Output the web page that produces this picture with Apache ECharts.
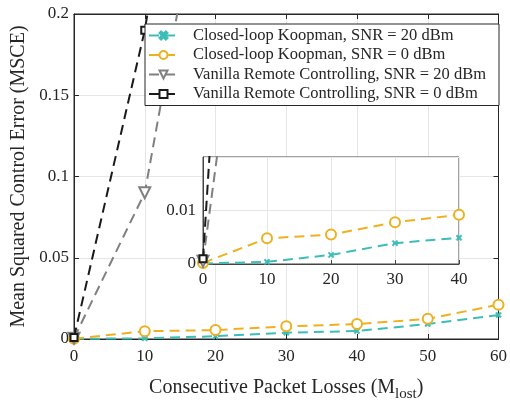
<!DOCTYPE html>
<html><head><meta charset="utf-8">
<script src="https://cdn.jsdelivr.net/npm/echarts@6/dist/echarts.min.js"></script>
<style>html,body{margin:0;padding:0;background:#fff}#c{width:510px;height:407px}</style>
</head><body><div id="c"></div>
<script>
// ---- data ----
const packetLosses = [0, 10, 20, 30, 40, 50, 60];
const koopman20 = [0.0001, 0.0004, 0.0017, 0.0039, 0.0049, 0.0092, 0.0148];
const koopman0  = [0.0002, 0.0048, 0.0055, 0.0078, 0.0092, 0.0124, 0.0211];
const vanilla20 = [0.0005, 0.090, 0.33, 0.58, 0.85, 1.10, 1.40];
const vanilla0  = [0.0010, 0.190, 0.45, 0.75, 1.05, 1.35, 1.70];
const seriesNames = [
  'Closed-loop Koopman, SNR = 20 dBm',
  'Closed-loop Koopman, SNR = 0 dBm',
  'Vanilla Remote Controlling, SNR = 20 dBm',
  'Vanilla Remote Controlling, SNR = 0 dBm'
];
const mainYTicks = [0, 0.05, 0.1, 0.15, 0.2];
const insetYTicks = [0, 0.01];

// ---- styling ----
const FONT = 'Liberation Serif';
const AX = '#262626';
const GRIDC = '#e6e6e6';
const colors = ['#3dbdb7', '#edb120', '#808080', '#1a1a1a'];
const xMark = 'path://M2,0 L5,3 L8,0 L10,2 L7,5 L10,8 L8,10 L5,7 L2,10 L0,8 L3,5 L0,2 Z';
const symbols = [xMark, 'emptyCircle', 'emptyTriangle', 'emptyRect'];
const symSizes = [6, 10, 11, 7];
const symRot = [0, 0, 180, 0];
const allData = [koopman20, koopman0, vanilla20, vanilla0];
const pairs = arr => packetLosses.map((x, i) => [x, arr[i]]);

function mkSeries(idx, xi, yi, inset) {
  const s = {
    type: 'line',
    name: seriesNames[idx],
    xAxisIndex: xi, yAxisIndex: yi,
    data: pairs(allData[idx]),
    symbol: symbols[idx],
    symbolSize: symSizes[idx],
    symbolRotate: symRot[idx],
    showAllSymbol: true,
    clip: true,
    animation: false,
    lineStyle: { color: colors[idx], width: 2, type: [10, 6] },
    itemStyle: idx === 0 ? { color: colors[idx], borderColor: colors[idx], borderWidth: 0.5 }
             : idx === 3 ? { color: colors[idx], borderColor: colors[idx], borderWidth: 2.5 }
                         : { color: colors[idx], borderColor: colors[idx], borderWidth: 2 },
    z: 2 + idx
  };
  if (inset) { s.zlevel = 1; }
  return s;
}

const tickLabel = { fontFamily: FONT, fontSize: 17, color: AX };

const option = {
  backgroundColor: '#fff',
  animation: false,
  grid: [
    { left: 74, right: 11, top: 14, bottom: 59, show: true, borderColor: AX, borderWidth: 1, backgroundColor: 'transparent' },
    { left: 203, right: 51, top: 157, bottom: 143, show: true, borderColor: '#444', borderWidth: 1, backgroundColor: '#fff', zlevel: 1 }
  ],
  legend: {
    orient: 'vertical',
    left: 145, top: 24,
    padding: [3, 13, 3, 3],
    itemWidth: 29, itemHeight: 10, itemGap: 2.5,
    backgroundColor: '#fff',
    borderColor: AX, borderWidth: 1,
    textStyle: { fontFamily: FONT, fontSize: 16.5, color: AX, padding: [0, 0, 0, 10] },
    data: seriesNames,
    z: 10
  },
  xAxis: [
    { gridIndex: 0, type: 'value', min: 0, max: 60, interval: 10,
      axisLine: { show: true, onZero: false, lineStyle: { color: AX } },
      axisTick: { show: true, inside: true, length: 5, lineStyle: { color: AX } },
      axisLabel: Object.assign({ margin: 9 }, tickLabel),
      splitLine: { show: true, lineStyle: { color: GRIDC } },
      name: 'Consecutive Packet Losses (M{sub|lost})',
      nameLocation: 'middle', nameGap: 34,
      nameTextStyle: { fontFamily: FONT, fontSize: 20, color: AX,
        rich: { sub: { fontFamily: FONT, fontSize: 15, color: AX, verticalAlign: 'bottom', padding: [14, 0, 0, 0] } } } },
    { gridIndex: 0, type: 'value', position: 'top', min: 0, max: 60, interval: 10,
      axisLine: { show: true, onZero: false, lineStyle: { color: AX } },
      axisTick: { show: true, inside: true, length: 5, lineStyle: { color: AX } },
      axisLabel: { show: false }, splitLine: { show: false } },
    { gridIndex: 1, type: 'value', min: 0, max: 40, interval: 10, zlevel: 1,
      axisLine: { show: true, onZero: false, lineStyle: { color: '#444' } },
      axisTick: { show: true, inside: true, length: 4, lineStyle: { color: '#444' } },
      axisLabel: Object.assign({ margin: 7 }, tickLabel),
      splitLine: { show: true, lineStyle: { color: GRIDC } } }
  ],
  yAxis: [
    { gridIndex: 0, type: 'value', min: mainYTicks[0], max: mainYTicks[mainYTicks.length - 1], interval: 0.05,
      axisLine: { show: true, onZero: false, lineStyle: { color: AX } },
      axisTick: { show: true, inside: true, length: 5, lineStyle: { color: AX } },
      axisLabel: Object.assign({ margin: 5 }, tickLabel),
      splitLine: { show: true, lineStyle: { color: GRIDC } },
      name: 'Mean Squared Control Error (MSCE)',
      nameLocation: 'middle', nameGap: 44, nameRotate: 90,
      nameTextStyle: { fontFamily: FONT, fontSize: 20, color: AX } },
    { gridIndex: 0, type: 'value', position: 'right', min: 0, max: 0.2, interval: 0.05,
      axisLine: { show: true, onZero: false, lineStyle: { color: AX } },
      axisTick: { show: true, inside: true, length: 5, lineStyle: { color: AX } },
      axisLabel: { show: false }, splitLine: { show: false } },
    { gridIndex: 1, type: 'value', min: insetYTicks[0], max: 0.02, interval: 0.01, zlevel: 1,
      axisLine: { show: true, onZero: false, lineStyle: { color: '#444' } },
      axisTick: { show: true, inside: true, length: 4, lineStyle: { color: '#444' } },
      axisLabel: Object.assign({ margin: 7, showMaxLabel: false }, tickLabel),
      splitLine: { show: true, lineStyle: { color: GRIDC } } }
  ],
  series: [
    mkSeries(0, 0, 0), mkSeries(1, 0, 0), mkSeries(2, 0, 0), mkSeries(3, 0, 0),
    mkSeries(0, 2, 2, true), mkSeries(1, 2, 2, true), mkSeries(2, 2, 2, true), mkSeries(3, 2, 2, true)
  ]
};
const chart = echarts.init(document.getElementById('c'), null, { renderer: 'canvas' });
chart.setOption(option);
</script>
</body></html>
